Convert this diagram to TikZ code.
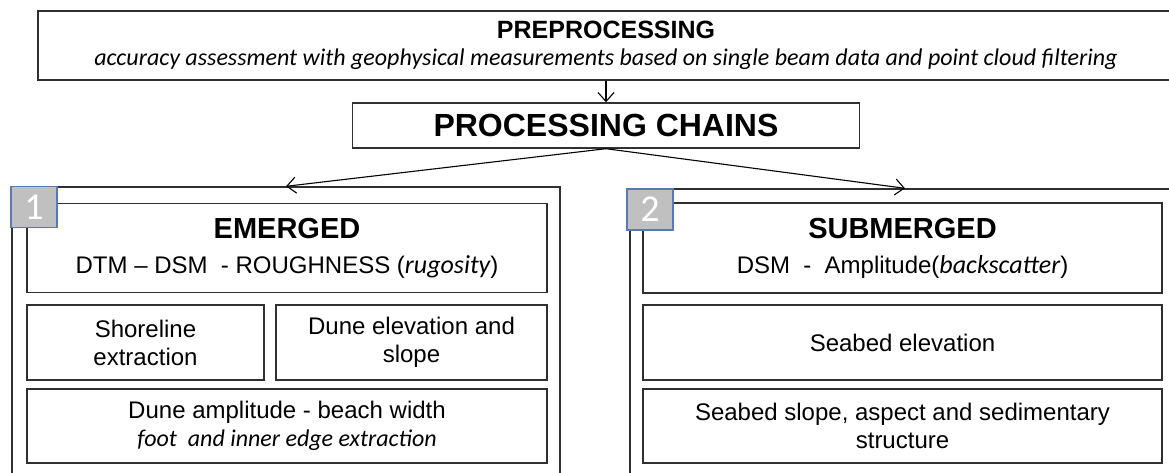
\documentclass[tikz,border=0pt]{standalone}
\usepackage{fontspec}
\setmainfont{Liberation Sans}
\newfontfamily\calfont{Carlito}
\usetikzlibrary{arrows.meta}
\definecolor{linegray}{HTML}{303030}
\definecolor{sqgray}{HTML}{C0C0C0}
\definecolor{sqblue}{HTML}{5A7BAF}

\begin{document}
\begin{tikzpicture}[x=1pt, y=-1pt,
    box/.style={draw=linegray, line width=1.4pt, inner sep=0pt, align=center},
    chain/.style={draw=linegray, line width=1.4pt, inner sep=0pt},
    numsq/.style={draw=sqblue, fill=sqgray, line width=1.2pt, text=white, inner sep=0pt,
        minimum width=46pt, minimum height=41pt, font=\calfont\fontsize{38}{38}\selectfont},
    flow/.style={-{Straight Barb[length=9pt, width=16pt]}, line width=1.1pt, draw=black}]
    \useasboundingbox (0,0) rectangle (1169,472);

    % Draw the preprocessing step and the processing chains
    \node[box, minimum width=1136pt, minimum height=69pt, font=\fontsize{24}{27}\selectfont] (pre) at (606,45.5)
        {{\bfseries\fontsize{25}{27}\selectfont PREPROCESSING}\\
         {\calfont\itshape accuracy assessment with geophysical measurements based on single beam data and point cloud filtering}};
    \node[box, minimum width=507pt, minimum height=45pt, font=\bfseries\fontsize{32}{34}\selectfont] (proc) at (606,125.5)
        {PROCESSING CHAINS};

    % Draw the two chains as open frames
    \node[chain, minimum width=548pt, minimum height=293pt] (emerged) at (286,333.5) {};
    \node[chain, minimum width=550pt, minimum height=291pt] (submerged) at (905,334.5) {};

    % Draw the boxes of the emerged chain
    \node[box, minimum width=520pt, minimum height=89pt, font=\fontsize{24}{35}\selectfont] (emhead) at (287,248)
        {{\bfseries\fontsize{29}{35}\selectfont EMERGED}\\
         DTM – DSM\ \ - ROUGHNESS ({\calfont\itshape\fontsize{26}{35}\selectfont rugosity})};
    \node[box, minimum width=237pt, minimum height=75pt, font=\fontsize{24}{28}\selectfont] (shore) at (145.5,342.5)
        {Shoreline\\extraction};
    \node[box, minimum width=271pt, minimum height=75pt, font=\fontsize{24}{28}\selectfont] (dunelev) at (411.5,342.5)
        {Dune elevation and\\slope};
    \node[box, minimum width=520pt, minimum height=74pt, font=\fontsize{24}{28}\selectfont] (duneamp) at (287,426)
        {Dune amplitude - beach width\\
         {\calfont\itshape\fontsize{24}{28}\selectfont foot\ \ and inner edge extraction}};

    % Draw the boxes of the submerged chain
    \node[box, minimum width=519pt, minimum height=90pt, font=\fontsize{24}{35}\selectfont] (subhead) at (902.5,248)
        {{\bfseries\fontsize{29}{35}\selectfont SUBMERGED}\\
         DSM\ \ -\ \ Amplitude({\calfont\itshape\fontsize{26}{35}\selectfont backscatter})};
    \node[box, minimum width=519pt, minimum height=75pt, font=\fontsize{24}{28}\selectfont] (seaelev) at (902.5,342.5)
        {Seabed elevation};
    \node[box, minimum width=519pt, minimum height=74pt, font=\fontsize{24}{28}\selectfont] (seaslope) at (902.5,426)
        {Seabed slope, aspect and sedimentary\\structure};

    % Number the chains
    \node[numsq] (num1) at (34,207) {1};
    \node[numsq] (num2) at (650,209.5) {2};

    % Draw the flow arrows
    \draw[flow] (pre.south) -- (proc.north);
    \draw[flow] (proc.south) -- (emerged.north);
    \draw[flow] (proc.south) -- (submerged.north);
\end{tikzpicture}
\end{document}
